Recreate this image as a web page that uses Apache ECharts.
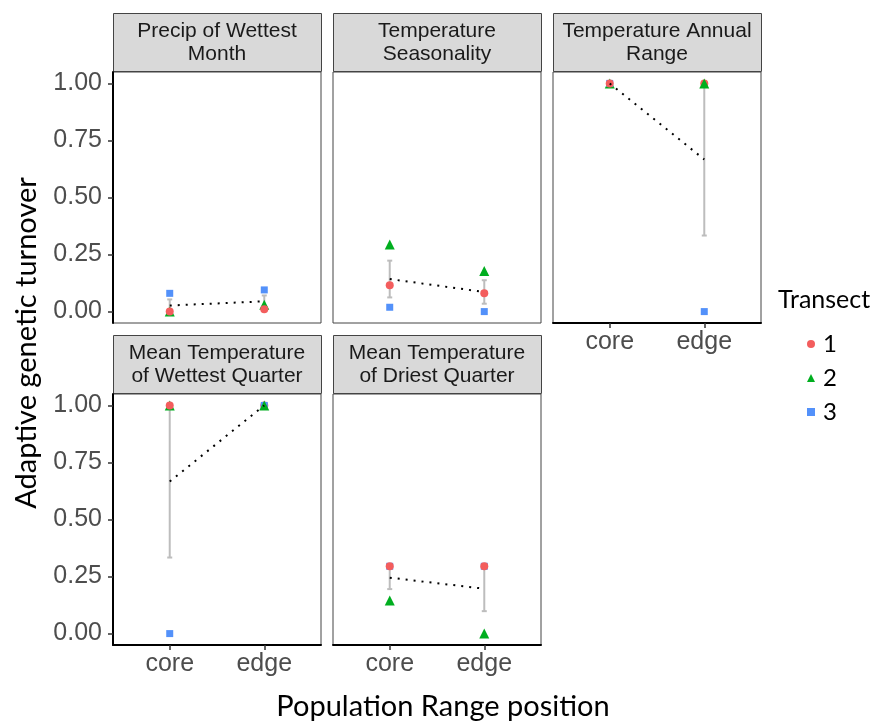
<!DOCTYPE html>
<html>
<head>
<meta charset="utf-8">
<script src="https://cdn.jsdelivr.net/npm/echarts@6/dist/echarts.min.js"></script>
<style>
  html, body { margin: 0; padding: 0; background: #fff; }
  #chart { width: 873px; height: 723px; }
</style>
</head>
<body>
<div id="chart"></div>
<script>
// Range positions on the x axis
const positions = ['core', 'edge'];
// Facet titles, one per environmental variable
const panelTitles = [
  'Precip of Wettest\nMonth',
  'Temperature\nSeasonality',
  'Temperature Annual\nRange',
  'Mean Temperature\nof Wettest Quarter',
  'Mean Temperature\nof Driest Quarter'
];
// Adaptive genetic turnover per transect: [core, edge] for each panel
const transect1 = [[0.000, 0.010], [0.115, 0.080], [1.000, 1.000], [1.000, 1.000], [0.295, 0.295]];
const transect2 = [[0.000, 0.030], [0.294, 0.178], [1.000, 1.000], [1.000, 1.000], [0.145, 0.000]];
const transect3 = [[0.080, 0.095], [0.019, 0.000], [1.000, 0.000], [0.000, 1.000], [0.295, 0.295]];
const transectNames = ['1', '2', '3'];
// Y axis tick values
const yTicks = [0, 0.25, 0.5, 0.75, 1.0];
// Stacking of overlapping points (bottom to top), per panel and position
const drawOrder = [
  [[3, 2, 1], [3, 2, 1]],
  [[3, 2, 1], [3, 2, 1]],
  [[2, 3, 1], [3, 1, 2]],
  [[3, 2, 1], [1, 3, 2]],
  [[3, 2, 1], [3, 2, 1]]
];

const allTransects = [transect1, transect2, transect3];
const colors = ['#F35D5D', '#00AE1F', '#5391FA'];
const symbols = ['circle', 'triangle', 'rect'];
const symbolSizes = [8, 10, 7];

// Facet layout
const row1Top = 72, row2Top = 394, panelH = 251, panelW = 208;
const colLeft = [113, 333, 553];
const stripH = 58;
const layout = [
  { left: colLeft[0], top: row1Top, yAxis: true,  xAxis: false },
  { left: colLeft[1], top: row1Top, yAxis: false, xAxis: false },
  { left: colLeft[2], top: row1Top, yAxis: false, xAxis: true },
  { left: colLeft[0], top: row2Top, yAxis: true,  xAxis: true },
  { left: colLeft[1], top: row2Top, yAxis: false, xAxis: true }
];

function meanOf(a) { return a.reduce((s, v) => s + v, 0) / a.length; }
function seOf(a) {
  const m = meanOf(a);
  const v = a.reduce((s, x) => s + (x - m) * (x - m), 0) / (a.length - 1);
  return Math.sqrt(v) / Math.sqrt(a.length);
}

const grids = [], xAxes = [], yAxes = [], series = [], graphics = [];
const tickLabelFont = { fontFamily: 'Liberation Sans, Arial, sans-serif', fontSize: 25, color: '#4D4D4D' };

layout.forEach((p, i) => {
  grids.push({
    left: p.left, top: p.top, width: panelW, height: panelH,
    show: true, borderColor: '#444', borderWidth: 1, backgroundColor: '#fff'
  });
  xAxes.push({
    gridIndex: i, type: 'value', min: 0.4, max: 2.6,
    splitLine: { show: false },
    axisLine: { show: p.xAxis, onZero: false, lineStyle: { color: '#000', width: 2 } },
    axisTick: { show: p.xAxis, customValues: [1, 2], length: 5, lineStyle: { color: '#333', width: 1.5 } },
    axisLabel: {
      show: p.xAxis, customValues: [1, 2], margin: 7,
      formatter: v => positions[Math.round(v) - 1],
      ...tickLabelFont
    }
  });
  yAxes.push({
    gridIndex: i, type: 'value', min: -0.05, max: 1.05,
    splitLine: { show: false },
    axisLine: { show: p.yAxis, onZero: false, lineStyle: { color: '#000', width: 2 } },
    axisTick: { show: p.yAxis, customValues: yTicks, length: 5, lineStyle: { color: '#333', width: 1.5 } },
    axisLabel: {
      show: p.yAxis, customValues: yTicks, margin: 11,
      formatter: v => v.toFixed(2),
      ...tickLabelFont
    }
  });

  // per-position mean and standard error across transects
  const summary = positions.map((_, k) => {
    const vals = allTransects.map(t => t[i][k]);
    const m = meanOf(vals), se = seOf(vals);
    return [k + 1, m, m - se, m + se];
  });

  // error bars
  series.push({
    type: 'custom', xAxisIndex: i, yAxisIndex: i, z: 2, silent: true,
    data: summary.map(s => [s[0], s[2], s[3]]),
    renderItem: (params, api) => {
      const x = api.value(0);
      const lo = api.coord([x, api.value(1)]);
      const hi = api.coord([x, api.value(2)]);
      const hw = 2.5;
      const st = { stroke: '#BDBDBD', lineWidth: 2 };
      return {
        type: 'group', children: [
          { type: 'line', shape: { x1: lo[0], y1: lo[1], x2: hi[0], y2: hi[1] }, style: st },
          { type: 'line', shape: { x1: lo[0] - hw, y1: lo[1], x2: lo[0] + hw, y2: lo[1] }, style: st },
          { type: 'line', shape: { x1: hi[0] - hw, y1: hi[1], x2: hi[0] + hw, y2: hi[1] }, style: st }
        ]
      };
    }
  });

  // points, stacked by drawOrder
  positions.forEach((_, k) => {
    drawOrder[i][k].forEach(tn => {
      const t = tn - 1;
      series.push({
        type: 'scatter', name: transectNames[t], xAxisIndex: i, yAxisIndex: i, z: 3,
        symbol: symbols[t], symbolSize: symbolSizes[t],
        itemStyle: { color: colors[t], opacity: 1 },
        emphasis: { disabled: true },
        data: [[k + 1, allTransects[t][i][k]]]
      });
    });
  });

  // dotted line joining the means
  series.push({
    type: 'line', xAxisIndex: i, yAxisIndex: i, z: 4, silent: true,
    showSymbol: false, symbol: 'none',
    lineStyle: { color: '#000', width: 2, type: [2, 6] },
    data: summary.map(s => [s[0], s[1]])
  });

  // facet strip
  const stripTop = p.top - stripH - 1;
  graphics.push({
    type: 'rect', left: p.left, top: stripTop,
    shape: { width: panelW, height: stripH },
    style: { fill: '#D9D9D9', stroke: '#444', lineWidth: 1 }
  });
  graphics.push({
    type: 'text', x: p.left + panelW / 2, y: stripTop + stripH / 2 + 1,
    style: {
      text: panelTitles[i], align: 'center', verticalAlign: 'middle',
      fontFamily: 'Liberation Sans, Arial, sans-serif', fontSize: 21, lineHeight: 23, fill: '#1A1A1A'
    }
  });
});

// axis titles and legend title
const titleFont = 'Lato, "Open Sans", sans-serif';
graphics.push({
  type: 'text', x: 443, y: 707,
  style: { text: 'Population Range position', align: 'center', verticalAlign: 'middle',
           fontFamily: titleFont, fontSize: 29, fill: '#000' }
});
graphics.push({
  type: 'text', x: 27, y: 343, rotation: Math.PI / 2,
  style: { text: 'Adaptive genetic turnover', align: 'center', verticalAlign: 'middle',
           fontFamily: titleFont, fontSize: 29, fill: '#000' }
});
graphics.push({
  type: 'text', x: 778, y: 300,
  style: { text: 'Transect', align: 'left', verticalAlign: 'middle',
           fontFamily: titleFont, fontSize: 25, fill: '#000' }
});

const chart = echarts.init(document.getElementById('chart'), null, { renderer: 'canvas' });
chart.setOption({
  animation: false,
  backgroundColor: '#fff',
  grid: grids,
  xAxis: xAxes,
  yAxis: yAxes,
  legend: {
    orient: 'vertical', left: 802, top: 327,
    itemWidth: 8, itemHeight: 8, itemGap: 10,
    selectedMode: false,
    textStyle: { fontFamily: titleFont, fontSize: 24, lineHeight: 24, color: '#000', padding: [0, 0, 0, 3] },
    data: transectNames.map((n, t) => ({ name: n, icon: symbols[t], itemStyle: { color: colors[t] } }))
  },
  graphic: graphics,
  series: series
});
</script>
</body>
</html>
